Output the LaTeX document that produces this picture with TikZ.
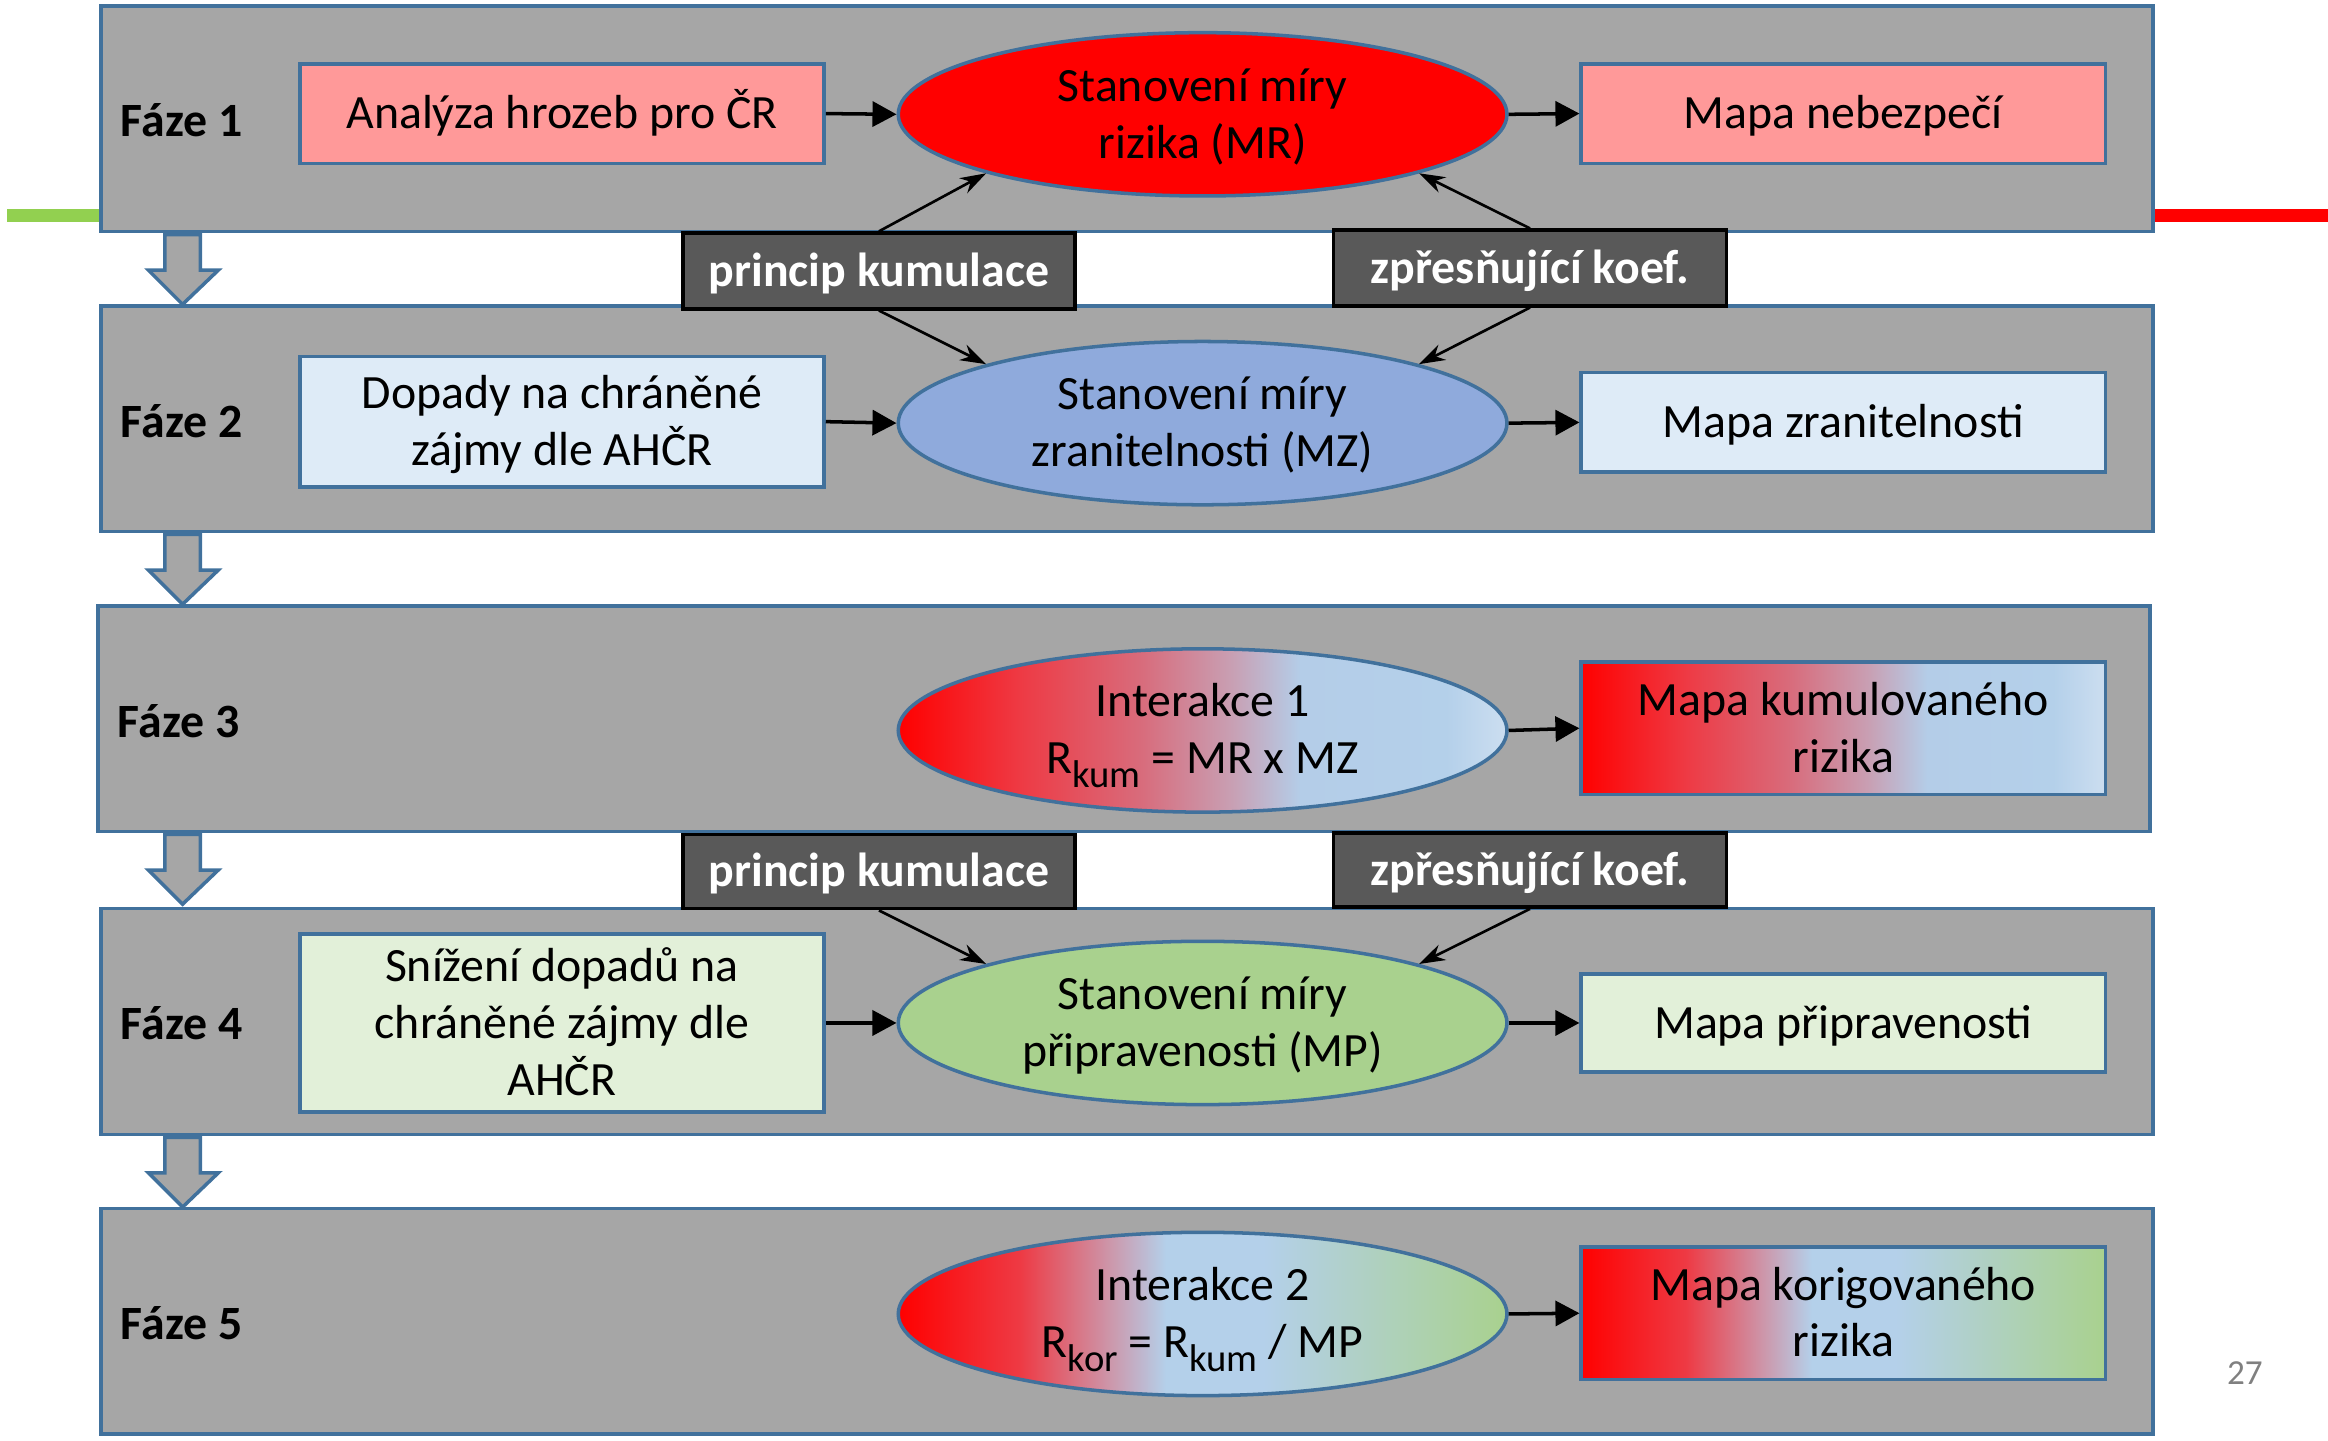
\documentclass[tikz,border=0pt]{standalone}
\usepackage{fontspec}
\setmainfont{Carlito}
\usetikzlibrary{shapes.geometric,arrows.meta,calc}
\definecolor{phasegray}{HTML}{A6A6A6}
\definecolor{bord}{HTML}{41719C}
\definecolor{lred}{HTML}{FF9999}
\definecolor{lblue}{HTML}{DEEBF7}
\definecolor{mblue}{HTML}{8FAADC}
\definecolor{lgreen}{HTML}{E2F0D9}
\definecolor{mgreen}{HTML}{A9D18E}
\definecolor{darkbox}{HTML}{595959}
\definecolor{sred}{HTML}{FF0000}
\definecolor{barg}{HTML}{92D050}
\definecolor{gA}{HTML}{EE3A44}
\definecolor{gB}{HTML}{D86C7C}
\definecolor{gC}{HTML}{C8A0B4}
\definecolor{gD}{HTML}{B4CDE8}
\definecolor{gE}{HTML}{B4D0EA}
\definecolor{gF}{HTML}{CCDEF0}
\definecolor{gG}{HTML}{CC98AC}
\pgfdeclarehorizontalshading{redblue}{100bp}{color(0bp)=(sred); color(25bp)=(sred); color(35bp)=(gA); color(45bp)=(gB); color(52.5bp)=(gC); color(58bp)=(gD); color(70bp)=(gE); color(75bp)=(gF); color(100bp)=(gF)}
\pgfdeclarehorizontalshading{redbluegreen}{100bp}{color(0bp)=(sred); color(25bp)=(sred); color(35bp)=(gA); color(42.5bp)=(gG); color(47bp)=(gE); color(55bp)=(gE); color(75bp)=(mgreen); color(100bp)=(mgreen)}
\newcommand\pu{0.014847cm}
\newcommand\ls{\rule[-3.75pt]{0pt}{16.2pt}}
\newcommand\mysub[1]{\raisebox{-0.6ex}{\fontsize{11}{11}\selectfont #1}}
\begin{document}
\begin{tikzpicture}[x=0.014847cm,y=-0.014847cm,
  txt/.style={font=\fontsize{13.6}{16.2}\selectfont, align=center, text=black},
  phase/.style={draw=bord, line width=1pt, fill=phasegray, minimum width=1382*\pu, minimum height=152*\pu, inner sep=0pt},
  lab/.style={font=\fontsize{13.6}{16.2}\selectfont\bfseries, anchor=west, inner sep=0pt},
  sidebox/.style={txt, draw=bord, line width=1pt, minimum width=353*\pu, inner sep=0pt},
  oval/.style={txt, ellipse, draw=bord, line width=1pt, minimum width=410*\pu, minimum height=110*\pu, inner sep=0pt},
  keybox/.style={draw=black, line width=1pt, fill=darkbox, text=white, font=\fontsize{13.6}{16.2}\selectfont\bfseries, minimum width=264*\pu, minimum height=51*\pu, inner sep=0pt},
  flow/.style={draw=black, line width=1pt, -{Triangle[length=0.24cm,width=0.25cm]}},
  feed/.style={draw=black, line width=0.75pt, -{Stealth[length=0.26cm,width=0.17cm]}},
  blockarr/.style={draw=bord, line width=1pt, fill=phasegray, line join=miter}
]
\useasboundingbox (0,0) rectangle (1568,970);
% side bars
\draw[barg, line width=9*\pu] (5,145) -- (68,145);
\draw[sred, line width=9*\pu] (1450,145) -- (1568,145);
% phase boxes
\node[phase] (f1) at (759,80) {};
\node[phase] (f2) at (759,282) {};
\node[phase] (f3) at (757,484) {};
\node[phase] (f4) at (759,688) {};
\node[phase] (f5) at (759,890) {};
% block arrows between phases
\foreach \yy in {158,360,562,766}{
  \draw[blockarr] (111,\yy) -- (135,\yy) -- (135,\yy+24) -- (147,\yy+24) -- (123,\yy+47) -- (100,\yy+24) -- (111,\yy+24) -- cycle;
}
% labels
\node[lab] (l1) at (81,81) {Fáze 1};
\node[lab] (l2) at (81,284) {Fáze 2};
\node[lab] (l3) at (79,486) {Fáze 3};
\node[lab] (l4) at (81,689) {Fáze 4};
\node[lab] (l5) at (81,891) {Fáze 5};
% phase 1
\node[sidebox, fill=lred, minimum height=67*\pu] (a1) at (378.5,76.5) {\ls Analýza hrozeb pro ČR};
\node[oval, fill=sred] (e1) at (810,77) {\ls Stanovení míry\\\ls rizika (MR)};
\node[sidebox, fill=lred, minimum height=67*\pu] (r1) at (1241.5,76.5) {\ls Mapa nebezpečí};
% phase 2
\node[sidebox, fill=lblue, minimum height=88*\pu] (a2) at (378.5,284) {\ls Dopady na chráněné\\\ls zájmy dle AHČR};
\node[oval, fill=mblue] (e2) at (810,285) {\ls Stanovení míry\\\ls zranitelnosti (MZ)};
\node[sidebox, fill=lblue, minimum height=67*\pu] (r2) at (1241.5,284.5) {\ls Mapa zranitelnosti};
% phase 3
\node[oval, shade, shading=redblue] (e3) at (810,492) {\ls Interakce 1\\\ls R\mysub{kum} = MR x MZ};
\node[sidebox, shade, shading=redblue, minimum height=89*\pu] (r3) at (1241.5,490.5) {\ls Mapa kumulovaného\\\ls rizika};
% phase 4
\node[sidebox, fill=lgreen, minimum height=120*\pu] (a4) at (378.5,689) {\ls Snížení dopadů na\\\ls chráněné zájmy dle\\\ls AHČR};
\node[oval, fill=mgreen] (e4) at (810,689) {\ls Stanovení míry\\\ls připravenosti (MP)};
\node[sidebox, fill=lgreen, minimum height=66*\pu] (r4) at (1241.5,689) {\ls Mapa připravenosti};
% phase 5
\node[oval, shade, shading=redbluegreen] (e5) at (810,885) {\ls Interakce 2\\\ls R\mysub{kor} = R\mysub{kum} / MP};
\node[sidebox, shade, shading=redbluegreen, minimum height=89*\pu] (r5) at (1241.5,884.5) {\ls Mapa korigovaného\\\ls rizika};
% key boxes
\node[keybox] (k1) at (592,182.5) {\ls princip kumulace};
\node[keybox, minimum width=265*\pu] (z1) at (1030.5,180.5) {\ls zpřesňující koef.};
\node[keybox, minimum height=50*\pu] (k2) at (592,587) {\ls princip kumulace};
\node[keybox, minimum width=265*\pu, minimum height=50*\pu] (z2) at (1030.5,586) {\ls zpřesňující koef.};
% flow arrows
\draw[flow] (a1.east) -- (e1.west);
\draw[flow] (e1.east) -- (r1.west);
\draw[flow] (a2.east) -- (e2.west);
\draw[flow] (e2.east) -- (r2.west);
\draw[flow] (e3.east) -- (r3.west);
\draw[flow] (a4.east) -- (e4.west);
\draw[flow] (e4.east) -- (r4.west);
\draw[flow] (e5.east) -- (r5.west);
% feeding arrows
\draw[feed] (k1.north) -- (e1.south west);
\draw[feed] (z1.north) -- (e1.south east);
\draw[feed] (k1.south) -- (e2.north west);
\draw[feed] (z1.south) -- (e2.north east);
\draw[feed] (k2.south) -- (e4.north west);
\draw[feed] (z2.south) -- (e4.north east);
% page number
\node[text=gray, font=\fontsize{10}{12}\selectfont] (pn) at (1512,925) {27};
\end{tikzpicture}
\end{document}
